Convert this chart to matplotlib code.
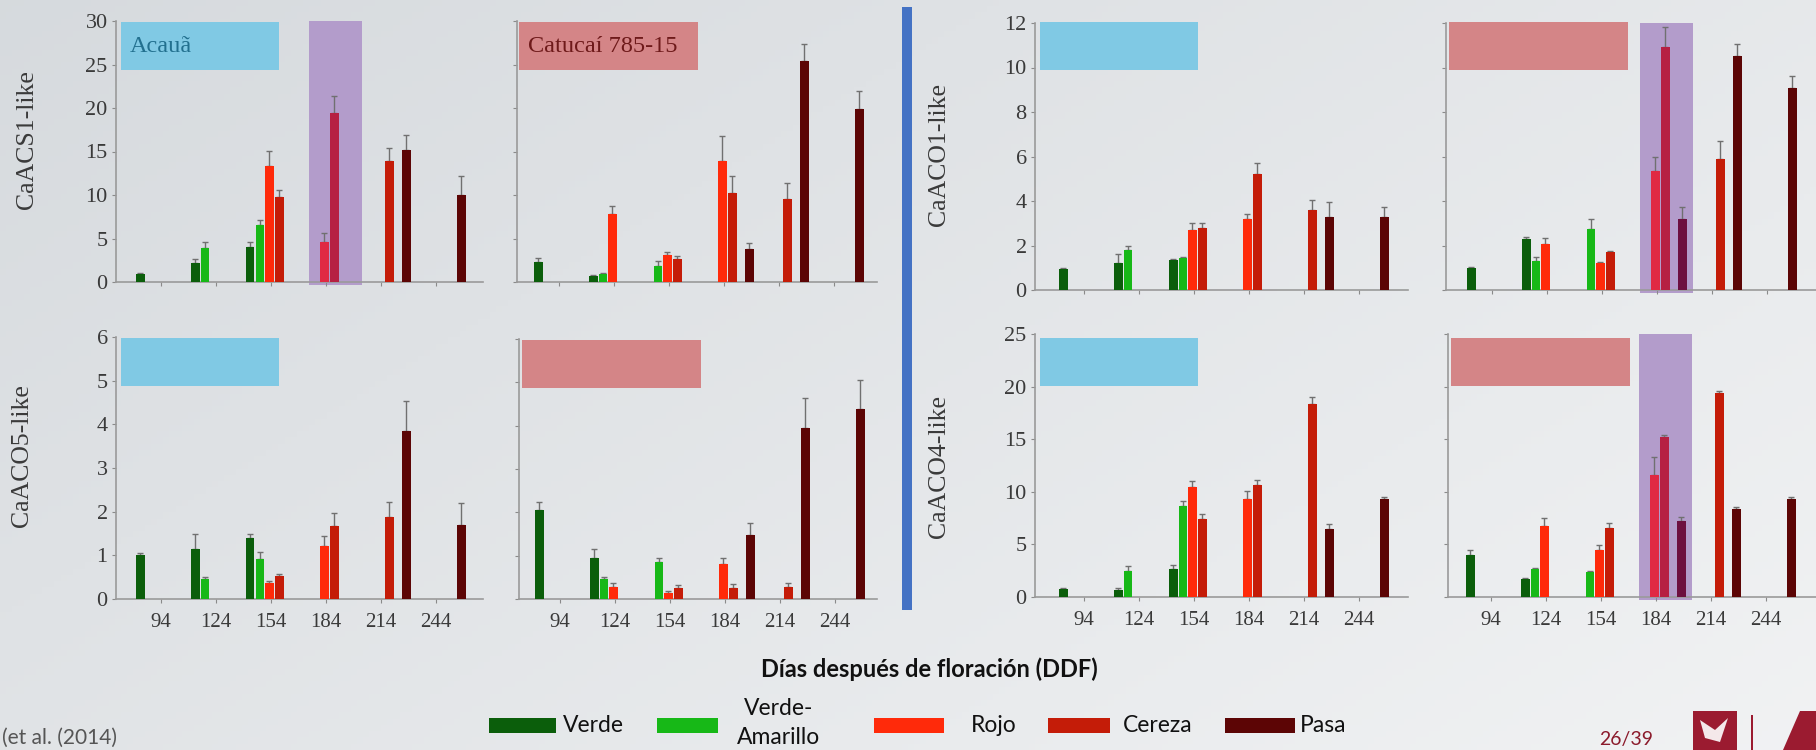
import matplotlib.pyplot as plt
from matplotlib.patches import Rectangle, Polygon
from matplotlib.colors import to_rgb
import matplotlib.transforms as mtransforms
import numpy as np

W, H = 1816, 750
n = np.nan

days = [94, 124, 154, 184, 214, 244]
stages = ['Verde', 'Verde-\nAmarillo', 'Rojo', 'Cereza', 'Pasa']
stage_colors = ['#0b5e0b', '#17b817', '#ff2a0a', '#c41c08', '#5c0505']

# relative expression, rows = ripening stage, columns = days
acs1_acaua = [[0.9, 2.2, 4.0, n, n, n],
              [n, 3.9, 6.6, n, n, n],
              [n, n, 13.3, 4.6, n, n],
              [n, n, 9.8, 19.4, 13.9, n],
              [n, n, n, n, 15.2, 10.0]]
acs1_acaua_err = [[0.1, 0.4, 0.6, n, n, n],
                  [n, 0.7, 0.5, n, n, n],
                  [n, n, 1.8, 1.0, n, n],
                  [n, n, 0.8, 2.0, 1.5, n],
                  [n, n, n, n, 1.7, 2.2]]

acs1_catucai = [[2.3, 0.7, n, n, n, n],
                [n, 0.9, 1.8, n, n, n],
                [n, 7.8, 3.1, 13.9, n, n],
                [n, n, 2.6, 10.2, 9.5, n],
                [n, n, n, 3.8, 25.4, 19.9]]
acs1_catucai_err = [[0.5, 0.1, n, n, n, n],
                    [n, 0.1, 0.6, n, n, n],
                    [n, 0.9, 0.3, 2.9, n, n],
                    [n, n, 0.4, 2.0, 1.9, n],
                    [n, n, n, 0.7, 1.9, 2.1]]

aco5_acaua = [[1.0, 1.15, 1.4, n, n, n],
              [n, 0.45, 0.92, n, n, n],
              [n, n, 0.37, 1.22, n, n],
              [n, n, 0.53, 1.68, 1.88, n],
              [n, n, n, n, 3.85, 1.7]]
aco5_acaua_err = [[0.05, 0.33, 0.1, n, n, n],
                  [n, 0.05, 0.15, n, n, n],
                  [n, n, 0.05, 0.23, n, n],
                  [n, n, 0.05, 0.28, 0.33, n],
                  [n, n, n, n, 0.68, 0.5]]

aco5_catucai = [[2.05, 0.95, n, n, n, n],
                [n, 0.46, 0.85, n, n, n],
                [n, 0.28, 0.14, 0.8, n, n],
                [n, n, 0.25, 0.25, 0.28, n],
                [n, n, n, 1.48, 3.95, 4.38]]
aco5_catucai_err = [[0.2, 0.2, n, n, n, n],
                    [n, 0.05, 0.1, n, n, n],
                    [n, 0.1, 0.05, 0.15, n, n],
                    [n, n, 0.08, 0.1, 0.1, n],
                    [n, n, n, 0.28, 0.7, 0.67]]

aco1_acaua = [[0.95, 1.2, 1.35, n, n, n],
              [n, 1.8, 1.45, n, n, n],
              [n, n, 2.7, 3.2, n, n],
              [n, n, 2.8, 5.2, 3.6, n],
              [n, n, n, n, 3.3, 3.3]]
aco1_acaua_err = [[0.05, 0.4, 0.05, n, n, n],
                  [n, 0.2, 0.05, n, n, n],
                  [n, n, 0.3, 0.2, n, n],
                  [n, n, 0.2, 0.5, 0.45, n],
                  [n, n, n, n, 0.65, 0.45]]

aco1_catucai = [[1.0, 2.3, n, n, n, n],
                [n, 1.3, 2.75, n, n, n],
                [n, 2.05, 1.2, 5.35, n, n],
                [n, n, 1.7, 10.9, 5.9, n],
                [n, n, n, 3.2, 10.5, 9.1]]
aco1_catucai_err = [[0.05, 0.1, n, n, n, n],
                    [n, 0.2, 0.45, n, n, n],
                    [n, 0.3, 0.05, 0.65, n, n],
                    [n, n, 0.05, 0.9, 0.8, n],
                    [n, n, n, 0.55, 0.55, 0.5]]

aco4_acaua = [[0.8, 0.7, 2.7, n, n, n],
              [n, 2.5, 8.65, n, n, n],
              [n, n, 10.45, 9.3, n, n],
              [n, n, 7.4, 10.6, 18.3, n],
              [n, n, n, n, 6.5, 9.3]]
aco4_acaua_err = [[0.1, 0.2, 0.3, n, n, n],
                  [n, 0.45, 0.45, n, n, n],
                  [n, n, 0.55, 0.75, n, n],
                  [n, n, 0.5, 0.5, 0.75, n],
                  [n, n, n, n, 0.4, 0.2]]

aco4_catucai = [[4.0, 1.7, n, n, n, n],
                [n, 2.65, 2.4, n, n, n],
                [n, 6.75, 4.45, 11.6, n, n],
                [n, n, 6.55, 15.2, 19.4, n],
                [n, n, n, 7.2, 8.35, 9.3]]
aco4_catucai_err = [[0.45, 0.1, n, n, n, n],
                    [n, 0.1, 0.1, n, n, n],
                    [n, 0.75, 0.5, 1.7, n, n],
                    [n, n, 0.45, 0.2, 0.2, n],
                    [n, n, n, 0.45, 0.2, 0.2]]

SERIF = 'Liberation Serif'
SANS = 'Lato'
BLUE_BOX = '#80c9e4'
RED_BOX = '#d48587'
HILITE = '#b39ccb'

fig = plt.figure(figsize=(W / 100, H / 100), dpi=100)


def px_rect(l, t, r, b):
    return [l / W, 1 - b / H, (r - l) / W, (b - t) / H]


def tint(c):
    r = np.array(to_rgb(c))
    return tuple(0.7 * r + 0.3 * np.array([150, 40, 200]) / 255)


# slide background
bg = fig.add_axes([0, 0, 1, 1], zorder=-10)
gx, gy = np.meshgrid(np.linspace(0, 1, 300), np.linspace(0, 1, 120))
t = np.clip(0.6 * gx + 0.4 * gy, 0, 1)[..., None]
c0 = np.array([0.84, 0.855, 0.87])
c1 = np.array([0.945, 0.95, 0.955])
bg.imshow(c0 * (1 - t) + c1 * t, aspect='auto', extent=[0, 1, 1, 0])
bg.set_xlim(0, 1)
bg.set_ylim(1, 0)
bg.axis('off')

panels = [
    dict(vals=acs1_acaua, err=acs1_acaua_err, rect=(116, 21, 483, 282), tick0=161,
         ylim=30, step=5, ylab='CaACS1-like', ylab_xy=(27, 140), labels_y=True, labels_x=False,
         hl=3, box=(121, 22, 279, 70), box_c=BLUE_BOX, title='Acauã', title_c='#22708f'),
    dict(vals=acs1_catucai, err=acs1_catucai_err, rect=(517, 21, 877, 282), tick0=559,
         ylim=30, step=5, labels_y=False, labels_x=False,
         box=(519, 22, 698, 70), box_c=RED_BOX, title='Catucaí 785-15', title_c='#6e1a1a'),
    dict(vals=aco1_acaua, err=aco1_acaua_err, rect=(1035, 23, 1408, 290), tick0=1084,
         ylim=12, step=2, ylab='CaACO1-like', ylab_xy=(939, 154), labels_y=True, labels_x=False,
         box=(1040, 22, 1198, 70), box_c=BLUE_BOX),
    dict(vals=aco1_catucai, err=aco1_catucai_err, rect=(1446, 23, 1816, 290), tick0=1492,
         ylim=12, step=2, labels_y=False, labels_x=False,
         hl=3, box=(1449, 22, 1628, 70), box_c=RED_BOX),
    dict(vals=aco5_acaua, err=aco5_acaua_err, rect=(116, 337, 483, 599), tick0=161,
         ylim=6, step=1, ylab='CaACO5-like', ylab_xy=(22, 456), labels_y=True, labels_x=True,
         box=(121, 338, 279, 386), box_c=BLUE_BOX),
    dict(vals=aco5_catucai, err=aco5_catucai_err, rect=(519, 339, 877, 599), tick0=560,
         ylim=6, step=1, labels_y=False, labels_x=True,
         box=(522, 340, 701, 388), box_c=RED_BOX),
    dict(vals=aco4_acaua, err=aco4_acaua_err, rect=(1035, 334, 1408, 597), tick0=1084,
         ylim=25, step=5, ylab='CaACO4-like', ylab_xy=(939, 466), labels_y=True, labels_x=True,
         box=(1040, 338, 1198, 386), box_c=BLUE_BOX),
    dict(vals=aco4_catucai, err=aco4_catucai_err, rect=(1448, 334, 1816, 597), tick0=1491,
         ylim=25, step=5, labels_y=False, labels_x=True,
         hl=3, box=(1451, 338, 1630, 386), box_c=RED_BOX),
]

offsets = [-0.38, -0.2, -0.03, 0.15, 0.46]
bar_w = 0.16
spacing = 55.0
x = np.arange(len(days))

for p in panels:
    l, t_, r, b = p['rect']
    ax = fig.add_axes(px_rect(l, t_, r, b))
    ax.patch.set_alpha(0)
    ax.set_xlim(-(p['tick0'] - l) / spacing, (r - p['tick0']) / spacing)
    ax.set_ylim(0, p['ylim'])
    ax.set_yticks(np.arange(0, p['ylim'] + 0.01, p['step']))
    ax.set_xticks(x)
    ax.set_xticklabels([str(d) for d in days])
    for s in ('top', 'right'):
        ax.spines[s].set_visible(False)
    for s in ('left', 'bottom'):
        ax.spines[s].set_color('#9a9a9a')
        ax.spines[s].set_linewidth(1.2)
    ax.tick_params(axis='both', direction='out', length=3, width=0.8, color='#8a8a8a',
                   labelcolor='#3a3a3a')
    ax.tick_params(axis='y', labelsize=16, pad=3, labelleft=p['labels_y'])
    ax.tick_params(axis='x', labelsize=15, pad=7, labelbottom=p['labels_x'])
    for lab in ax.get_xticklabels() + ax.get_yticklabels():
        lab.set_fontfamily(SERIF)

    hl = p.get('hl')
    if hl is not None:
        trans = mtransforms.blended_transform_factory(ax.transData, ax.transAxes)
        ax.add_patch(Rectangle((hl - 0.31, -0.01), 0.96, 1.01, transform=trans,
                               color=HILITE, zorder=1, clip_on=False, lw=0))

    for k in range(len(stages)):
        vals = np.array(p['vals'][k], float)
        errs = np.array(p['err'][k], float)
        cols = [tint(stage_colors[k]) if i == hl else stage_colors[k] for i in range(len(days))]
        ax.errorbar(x + offsets[k], vals, yerr=[np.zeros_like(errs), errs], fmt='none',
                    ecolor='#707070', elinewidth=1, capsize=2.5, capthick=1, zorder=2)
        ax.bar(x + offsets[k], vals, bar_w, color=cols, zorder=3, lw=0)

    bl, bt, br, bb = p['box']
    fig.patches.append(Rectangle((bl / W, 1 - bb / H), (br - bl) / W, (bb - bt) / H,
                                 transform=fig.transFigure, color=p['box_c'], lw=0, zorder=5))
    if 'title' in p:
        fig.text((bl + 9) / W, 1 - (bt + bb) / 2 / H, p['title'], family=SERIF, fontsize=17.5,
                 color=p['title_c'], va='center', ha='left', zorder=6)
    if 'ylab' in p:
        xx, yy = p['ylab_xy']
        fig.text(xx / W, 1 - yy / H, p['ylab'], family=SERIF, fontsize=18.5, color='#3a3a3a',
                 rotation=90, ha='center', va='center')

# separator between the two gene groups
fig.patches.append(Rectangle((902 / W, 1 - 610 / H), 10 / W, 603 / H,
                             transform=fig.transFigure, color='#4472c4', lw=0))

fig.text(929 / W, 1 - 669 / H, 'Días después de floración (DDF)', family=SANS,
         fontweight='bold', fontsize=17, color='#111111', ha='center', va='center')

# legend row
leg_patches = [(489, 556), (657, 718), (874, 944), (1048, 1110), (1225, 1295)]
leg_text_x = [563, 779, 971, 1123, 1300]
for k, name in enumerate(stages):
    x0, x1 = leg_patches[k]
    fig.patches.append(Rectangle((x0 / W, 1 - 733 / H), (x1 - x0) / W, 15 / H,
                                 transform=fig.transFigure, color=stage_colors[k], lw=0))
    if '\n' in name:
        fig.text(leg_text_x[k] / W, 1 - 723 / H, name, family=SANS, fontsize=16.5,
                 color='#111111', ha='center', va='center', linespacing=1.45)
    else:
        fig.text(leg_text_x[k] / W, 1 - 725 / H, name, family=SANS, fontsize=16.5,
                 color='#111111', ha='left', va='center')

fig.text(2 / W, 1 - 738 / H, '(et al. (2014)', family=SANS, fontsize=15,
         color='#555555', ha='left', va='center')
fig.text(1626 / W, 1 - 740 / H, '26/39', family=SANS, fontsize=14,
         color='#8b1a2b', ha='center', va='center')

# institution logo
fig.patches.append(Rectangle((1693 / W, 0), 44 / W, 39 / H, transform=fig.transFigure,
                             color='#9b1b30', lw=0))
fig.patches.append(Polygon([(1700 / W, 30 / H), (1715 / W, 20 / H), (1728 / W, 32 / H),
                            (1720 / W, 8 / H), (1705 / W, 12 / H)], closed=True,
                           transform=fig.transFigure, color='#f4e8ea', lw=0))
fig.patches.append(Rectangle((1751 / W, 0), 2 / W, 35 / H, transform=fig.transFigure,
                             color='#9b1b30', lw=0))
fig.patches.append(Polygon([(1783 / W, 0), (1800 / W, 39 / H), (1816 / W, 39 / H),
                            (1816 / W, 0)], closed=True, transform=fig.transFigure,
                           color='#9b1b30', lw=0))

fig.savefig('out.png', dpi=100)
